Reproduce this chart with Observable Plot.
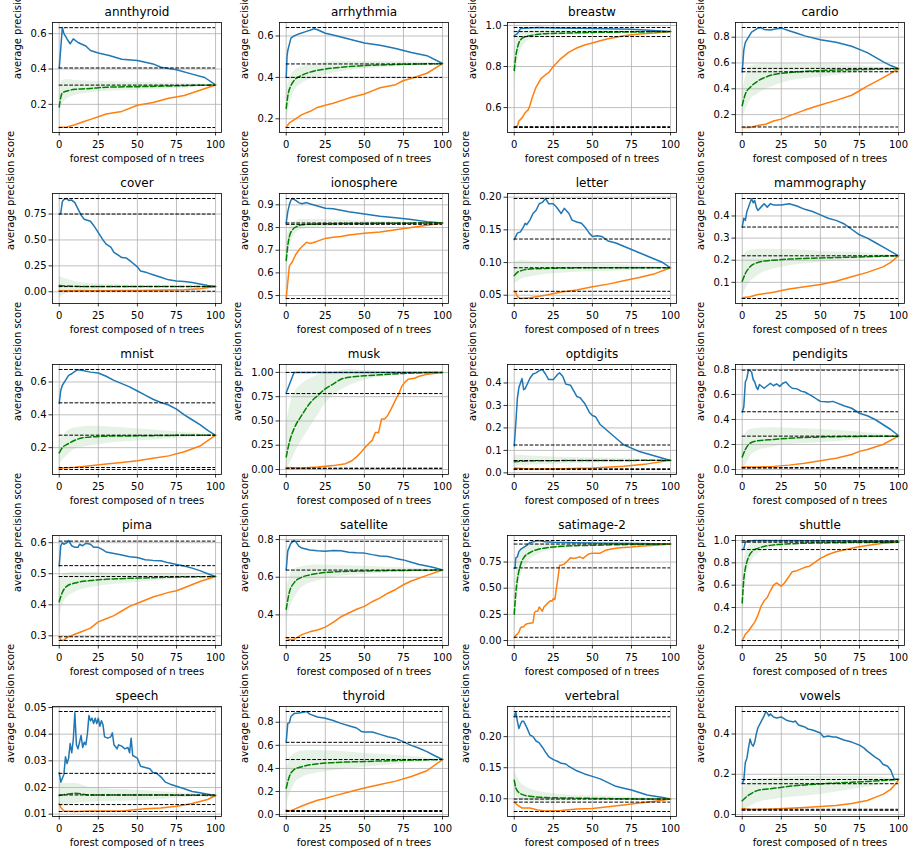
<!DOCTYPE html>
<html>
<head>
<meta charset="utf-8">
<script src="https://cdn.jsdelivr.net/npm/d3@7"></script>
<script src="https://cdn.jsdelivr.net/npm/@observablehq/plot@0.6"></script>
<style>
  html, body { margin: 0; padding: 0; background: #fff; }
  #wrap { position: relative; width: 914px; height: 856px; background: #fff; overflow: hidden; }
</style>
</head>
<body>
<div id="wrap"></div>
<script>
const DATASETS = ["annthyroid","arrhythmia","breastw","cardio","cover","ionosphere","letter","mammography",
  "mnist","musk","optdigits","pendigits","pima","satellite","satimage-2","shuttle","speech","thyroid","vertebral","vowels"];

const X_TICKS = [0, 25, 50, 75, 100];
const X_LABEL = ["forest composed of ", "n", " trees"];
const Y_LABEL = "average precision score";

const Y_TICKS = {
  "annthyroid": ["0.2","0.4","0.6"],
  "arrhythmia": ["0.2","0.4","0.6"],
  "breastw": ["0.6","0.8","1.0"],
  "cardio": ["0.2","0.4","0.6","0.8"],
  "cover": ["0.00","0.25","0.50","0.75"],
  "ionosphere": ["0.5","0.6","0.7","0.8","0.9"],
  "letter": ["0.05","0.10","0.15","0.20"],
  "mammography": ["0.1","0.2","0.3","0.4"],
  "mnist": ["0.2","0.4","0.6"],
  "musk": ["0.00","0.25","0.50","0.75","1.00"],
  "optdigits": ["0.0","0.1","0.2","0.3","0.4"],
  "pendigits": ["0.0","0.2","0.4","0.6","0.8"],
  "pima": ["0.3","0.4","0.5","0.6"],
  "satellite": ["0.4","0.6","0.8"],
  "satimage-2": ["0.00","0.25","0.50","0.75"],
  "shuttle": ["0.2","0.4","0.6","0.8","1.0"],
  "speech": ["0.01","0.02","0.03","0.04","0.05"],
  "thyroid": ["0.0","0.2","0.4","0.6","0.8"],
  "vertebral": ["0.10","0.15","0.20"],
  "vowels": ["0.0","0.2","0.4"]
};

const HLINES = {
  "annthyroid": [0.634, 0.406, 0.309, 0.069],
  "arrhythmia": [0.641, 0.465, 0.40, 0.158],
  "breastw": [0.99, 0.97, 0.946, 0.507, 0.503],
  "cardio": [0.875, 0.558, 0.532, 0.104],
  "cover": [0.90, 0.75, 0.05, 0.005],
  "ionosphere": [0.928, 0.82, 0.814, 0.487],
  "letter": [0.198, 0.136, 0.092, 0.056, 0.045],
  "mammography": [0.479, 0.35, 0.22, 0.027],
  "mnist": [0.676, 0.473, 0.276, 0.079, 0.067],
  "musk": [1.0, 0.782, 0.014, 0.009],
  "optdigits": [0.46, 0.124, 0.055, 0.018, 0.015],
  "pendigits": [0.795, 0.462, 0.267, 0.016, 0.011],
  "pima": [0.605, 0.526, 0.491, 0.297, 0.285],
  "satellite": [0.791, 0.638, 0.28, 0.264],
  "satimage-2": [0.956, 0.922, 0.694, 0.031],
  "shuttle": [0.997, 0.985, 0.919, 0.105],
  "speech": [0.0485, 0.0253, 0.0172, 0.0136, 0.011],
  "thyroid": [0.893, 0.626, 0.477, 0.035, 0.027],
  "vertebral": [0.2405, 0.232, 0.0995, 0.0946, 0.0795],
  "vowels": [0.512, 0.174, 0.153, 0.026, 0.021]
};

const BLUE = {
  "annthyroid": [[0,0.405],[1,0.52],[2,0.635],[3,0.60],[5,0.57],[7,0.543],[9,0.571],[12,0.55],[17,0.53],[20,0.505],[25,0.491],[32,0.476],[40,0.455],[50,0.448],[60,0.429],[65,0.41],[75,0.396],[85,0.371],[93,0.352],[100,0.31]],
  "arrhythmia": [[0,0.40],[0.5,0.5],[1,0.53],[3,0.59],[5,0.60],[8,0.61],[12,0.62],[18,0.635],[20,0.63],[25,0.613],[30,0.605],[40,0.585],[50,0.566],[60,0.555],[70,0.54],[80,0.52],[90,0.505],[100,0.467]],
  "breastw": [[0,0.95],[2,0.96],[4,0.985],[10,0.988],[15,0.99],[25,0.988],[50,0.985],[75,0.982],[100,0.97]],
  "cardio": [[0,0.53],[1,0.70],[2,0.76],[4,0.80],[6,0.84],[8,0.855],[10,0.87],[12,0.875],[14,0.86],[18,0.855],[22,0.865],[25,0.87],[30,0.85],[35,0.83],[40,0.81],[50,0.78],[60,0.76],[70,0.73],[80,0.68],[90,0.61],[95,0.58],[100,0.555]],
  "cover": [[0,0.75],[1,0.76],[2,0.87],[3,0.89],[5,0.90],[6,0.88],[8,0.885],[10,0.86],[12,0.80],[14,0.74],[16,0.70],[20,0.68],[22,0.64],[25,0.57],[28,0.50],[30,0.46],[33,0.43],[35,0.38],[38,0.35],[40,0.33],[43,0.325],[46,0.29],[50,0.24],[52,0.20],[56,0.185],[60,0.165],[65,0.14],[70,0.115],[75,0.105],[80,0.10],[85,0.09],[90,0.075],[95,0.06],[100,0.05]],
  "ionosphere": [[0,0.82],[1,0.87],[2,0.90],[3,0.92],[4,0.928],[6,0.92],[8,0.91],[10,0.905],[13,0.91],[15,0.905],[20,0.895],[25,0.885],[30,0.883],[40,0.87],[50,0.86],[60,0.85],[70,0.843],[80,0.835],[90,0.826],[100,0.82]],
  "letter": [[0,0.135],[1,0.14],[2,0.145],[4,0.147],[6,0.155],[7,0.16],[8,0.158],[10,0.165],[12,0.175],[14,0.18],[16,0.19],[18,0.192],[20,0.198],[22,0.19],[25,0.19],[27,0.185],[30,0.175],[32,0.183],[35,0.175],[37,0.165],[40,0.162],[43,0.16],[46,0.152],[48,0.145],[50,0.14],[53,0.141],[56,0.14],[60,0.133],[65,0.13],[70,0.125],[75,0.12],[80,0.115],[85,0.11],[90,0.105],[95,0.10],[100,0.092]],
  "mammography": [[0,0.35],[1,0.39],[2,0.38],[3,0.42],[4,0.44],[5,0.46],[6,0.478],[7,0.46],[8,0.47],[9,0.44],[10,0.425],[12,0.44],[14,0.455],[16,0.44],[18,0.455],[20,0.45],[25,0.45],[30,0.455],[35,0.445],[40,0.43],[45,0.42],[50,0.405],[55,0.39],[60,0.38],[65,0.365],[70,0.34],[75,0.315],[80,0.30],[85,0.28],[90,0.26],[95,0.24],[100,0.22]],
  "mnist": [[0,0.47],[1,0.55],[2,0.58],[4,0.61],[6,0.64],[8,0.65],[10,0.665],[12,0.675],[15,0.67],[20,0.66],[25,0.655],[30,0.635],[35,0.61],[40,0.59],[45,0.57],[50,0.545],[55,0.52],[60,0.495],[65,0.475],[70,0.46],[75,0.435],[80,0.40],[85,0.37],[90,0.34],[95,0.305],[100,0.275]],
  "musk": [[0,0.79],[5,1.0],[100,1.0]],
  "optdigits": [[0,0.12],[1,0.22],[2,0.33],[3,0.38],[4,0.40],[5,0.42],[6,0.37],[7,0.375],[8,0.39],[10,0.42],[12,0.44],[14,0.445],[16,0.455],[18,0.46],[20,0.44],[22,0.415],[25,0.415],[28,0.44],[29,0.445],[31,0.43],[33,0.395],[36,0.39],[40,0.34],[42,0.335],[45,0.31],[48,0.27],[50,0.255],[52,0.25],[55,0.215],[60,0.185],[65,0.155],[70,0.125],[75,0.11],[80,0.095],[85,0.085],[90,0.075],[95,0.065],[100,0.055]],
  "pendigits": [[0,0.46],[1,0.50],[2,0.70],[3,0.73],[4,0.80],[5,0.79],[6,0.78],[7,0.72],[8,0.70],[9,0.66],[10,0.64],[11,0.68],[12,0.67],[14,0.65],[16,0.67],[18,0.69],[20,0.67],[22,0.685],[24,0.665],[26,0.69],[28,0.70],[30,0.67],[32,0.65],[35,0.645],[38,0.625],[40,0.62],[45,0.585],[48,0.56],[50,0.545],[55,0.54],[58,0.545],[60,0.535],[65,0.51],[70,0.49],[75,0.45],[80,0.43],[85,0.40],[90,0.36],[95,0.32],[100,0.27]],
  "pima": [[0,0.525],[1,0.59],[2,0.60],[3,0.595],[5,0.60],[6,0.607],[8,0.59],[10,0.585],[12,0.585],[13,0.595],[15,0.59],[17,0.598],[20,0.595],[22,0.585],[25,0.585],[28,0.577],[30,0.57],[35,0.565],[40,0.56],[45,0.555],[50,0.552],[55,0.545],[60,0.543],[65,0.542],[70,0.535],[75,0.53],[80,0.525],[85,0.518],[90,0.51],[95,0.50],[100,0.491]],
  "satellite": [[0,0.64],[1,0.74],[2,0.76],[3,0.78],[5,0.795],[6,0.79],[8,0.765],[10,0.755],[15,0.745],[20,0.74],[25,0.738],[30,0.742],[35,0.74],[40,0.733],[45,0.73],[50,0.728],[55,0.72],[60,0.713],[65,0.71],[70,0.70],[75,0.692],[80,0.68],[85,0.668],[90,0.66],[95,0.65],[100,0.638]],
  "satimage-2": [[0,0.69],[0.5,0.69],[1,0.79],[2,0.80],[3,0.85],[4,0.87],[6,0.89],[8,0.91],[10,0.935],[15,0.955],[20,0.945],[25,0.94],[40,0.935],[60,0.93],[80,0.928],[100,0.922]],
  "shuttle": [[0,0.92],[1,0.925],[2,0.985],[4,0.995],[8,1.0],[50,0.997],[100,0.99]],
  "speech": [[0,0.0255],[1,0.022],[2,0.0235],[3,0.025],[4,0.0315],[5,0.029],[6,0.031],[7,0.0365],[8,0.033],[9,0.038],[10,0.048],[11,0.036],[12,0.0345],[13,0.037],[14,0.0395],[15,0.035],[16,0.037],[17,0.036],[18,0.04],[19,0.047],[20,0.045],[21,0.046],[22,0.044],[23,0.046],[24,0.044],[25,0.046],[26,0.043],[27,0.045],[28,0.0435],[29,0.039],[31,0.0385],[33,0.039],[34,0.0405],[35,0.036],[37,0.0345],[38,0.036],[40,0.0355],[42,0.0345],[44,0.035],[45,0.033],[46,0.0385],[47,0.032],[50,0.031],[52,0.028],[55,0.0275],[58,0.027],[60,0.0255],[62,0.0255],[65,0.024],[68,0.022],[72,0.021],[75,0.0205],[80,0.0195],[85,0.0185],[90,0.018],[95,0.0175],[100,0.017]],
  "thyroid": [[0,0.63],[1,0.79],[2,0.795],[3,0.85],[5,0.875],[8,0.88],[10,0.885],[13,0.893],[15,0.87],[20,0.845],[25,0.835],[30,0.815],[35,0.79],[40,0.77],[45,0.75],[48,0.72],[50,0.715],[55,0.715],[60,0.695],[65,0.675],[70,0.66],[75,0.63],[80,0.60],[85,0.575],[90,0.545],[95,0.51],[100,0.477]],
  "vertebral": [[0,0.232],[1,0.24],[2,0.225],[3,0.213],[4,0.22],[5,0.225],[6,0.225],[8,0.215],[10,0.203],[12,0.20],[14,0.193],[16,0.19],[18,0.183],[20,0.175],[22,0.168],[25,0.163],[28,0.16],[30,0.157],[33,0.156],[35,0.152],[40,0.145],[45,0.14],[50,0.136],[55,0.132],[60,0.126],[65,0.12],[70,0.117],[75,0.114],[80,0.11],[85,0.106],[90,0.104],[95,0.102],[100,0.0995]],
  "vowels": [[0,0.155],[1,0.17],[2,0.26],[3,0.28],[4,0.33],[5,0.375],[6,0.35],[7,0.34],[8,0.36],[9,0.40],[10,0.43],[12,0.46],[14,0.49],[15,0.51],[16,0.505],[17,0.49],[18,0.50],[20,0.485],[22,0.48],[25,0.485],[28,0.47],[30,0.465],[33,0.46],[34,0.465],[36,0.445],[40,0.435],[42,0.425],[45,0.42],[50,0.405],[52,0.385],[55,0.39],[58,0.385],[60,0.385],[65,0.37],[70,0.36],[75,0.345],[78,0.33],[80,0.315],[85,0.285],[88,0.27],[90,0.25],[93,0.24],[95,0.22],[97,0.18],[98,0.175],[100,0.175]]
};

const ORANGE = {
  "annthyroid": [[0,0.07],[5,0.072],[10,0.085],[15,0.10],[20,0.115],[25,0.13],[30,0.145],[40,0.16],[50,0.195],[60,0.21],[70,0.235],[80,0.25],[90,0.28],[100,0.31]],
  "arrhythmia": [[0,0.16],[2,0.18],[5,0.195],[10,0.22],[15,0.235],[20,0.255],[25,0.265],[30,0.275],[40,0.30],[50,0.32],[55,0.335],[60,0.35],[70,0.365],[75,0.385],[80,0.395],[90,0.42],[100,0.467]],
  "breastw": [[0,0.505],[2,0.51],[3,0.535],[5,0.55],[7,0.575],[9,0.59],[10,0.61],[12,0.66],[14,0.70],[17,0.74],[20,0.76],[22,0.77],[25,0.80],[30,0.84],[35,0.87],[40,0.89],[45,0.905],[50,0.915],[55,0.925],[60,0.935],[70,0.95],[80,0.958],[90,0.963],[100,0.97]],
  "cardio": [[0,0.10],[5,0.10],[10,0.115],[15,0.125],[20,0.15],[25,0.165],[30,0.19],[40,0.235],[50,0.275],[60,0.31],[70,0.35],[75,0.385],[80,0.42],[90,0.485],[100,0.555]],
  "cover": [[0,0.01],[50,0.013],[80,0.02],[90,0.03],[100,0.05]],
  "ionosphere": [[0,0.49],[1,0.56],[2,0.63],[4,0.65],[6,0.68],[8,0.70],[10,0.715],[13,0.735],[15,0.73],[18,0.735],[20,0.74],[25,0.752],[30,0.757],[35,0.76],[40,0.767],[50,0.775],[60,0.78],[70,0.79],[80,0.80],[90,0.81],[100,0.82]],
  "letter": [[0,0.056],[1,0.054],[2,0.048],[4,0.045],[10,0.046],[20,0.05],[30,0.055],[40,0.058],[50,0.063],[60,0.067],[70,0.072],[80,0.077],[90,0.083],[100,0.092]],
  "mammography": [[0,0.03],[5,0.035],[10,0.045],[20,0.055],[30,0.07],[40,0.08],[50,0.09],[60,0.105],[70,0.125],[80,0.145],[90,0.17],[95,0.19],[100,0.22]],
  "mnist": [[0,0.075],[10,0.08],[20,0.09],[30,0.10],[40,0.11],[50,0.12],[60,0.135],[70,0.15],[80,0.175],[90,0.21],[100,0.276]],
  "musk": [[0,0.02],[10,0.015],[20,0.025],[30,0.04],[38,0.06],[42,0.09],[45,0.13],[48,0.18],[50,0.22],[53,0.27],[55,0.30],[57,0.38],[59,0.38],[61,0.52],[63,0.52],[65,0.56],[67,0.62],[70,0.72],[72,0.78],[74,0.86],[76,0.90],[78,0.93],[82,0.94],[85,0.96],[90,0.98],[100,1.0]],
  "optdigits": [[0,0.022],[10,0.017],[30,0.018],[50,0.022],[70,0.03],[85,0.04],[100,0.056]],
  "pendigits": [[0,0.02],[10,0.02],[20,0.025],[30,0.035],[40,0.05],[50,0.07],[60,0.09],[70,0.12],[75,0.145],[80,0.16],[90,0.20],[100,0.267]],
  "pima": [[0,0.297],[1,0.287],[3,0.286],[5,0.295],[10,0.305],[15,0.315],[20,0.325],[25,0.345],[30,0.355],[35,0.365],[40,0.38],[45,0.395],[50,0.405],[60,0.425],[70,0.44],[75,0.445],[80,0.455],[90,0.475],[100,0.491]],
  "satellite": [[0,0.28],[2,0.268],[5,0.27],[10,0.295],[15,0.31],[20,0.32],[25,0.335],[30,0.36],[35,0.39],[40,0.41],[45,0.43],[50,0.445],[55,0.47],[60,0.49],[65,0.515],[70,0.535],[75,0.56],[80,0.58],[90,0.61],[100,0.638]],
  "satimage-2": [[0,0.03],[1,0.05],[2,0.06],[3,0.08],[4,0.12],[5,0.13],[6,0.13],[7,0.15],[8,0.16],[10,0.165],[12,0.17],[13,0.27],[14,0.28],[15,0.28],[16,0.32],[17,0.30],[18,0.28],[19,0.32],[21,0.35],[23,0.38],[24,0.375],[25,0.40],[26,0.39],[27,0.50],[28,0.60],[29,0.72],[30,0.72],[32,0.73],[34,0.76],[36,0.79],[38,0.785],[40,0.79],[42,0.80],[44,0.785],[46,0.81],[48,0.83],[50,0.835],[55,0.835],[58,0.86],[62,0.875],[66,0.885],[70,0.89],[75,0.893],[80,0.90],[90,0.91],[100,0.922]],
  "shuttle": [[0,0.105],[1,0.13],[2,0.16],[4,0.19],[6,0.23],[8,0.27],[10,0.33],[12,0.41],[14,0.46],[16,0.49],[18,0.55],[20,0.60],[22,0.62],[24,0.60],[25,0.59],[27,0.62],[29,0.66],[30,0.68],[32,0.72],[35,0.73],[40,0.76],[43,0.77],[46,0.80],[50,0.84],[55,0.875],[60,0.90],[65,0.915],[70,0.93],[75,0.945],[80,0.955],[90,0.975],[100,0.985]],
  "speech": [[0,0.014],[1,0.0125],[3,0.0112],[10,0.011],[20,0.0112],[40,0.0112],[55,0.012],[65,0.0123],[75,0.013],[85,0.014],[95,0.0155],[100,0.017]],
  "thyroid": [[0,0.04],[2,0.03],[5,0.045],[10,0.075],[15,0.10],[20,0.125],[25,0.14],[30,0.16],[40,0.195],[50,0.23],[60,0.26],[70,0.29],[80,0.33],[90,0.38],[100,0.477]],
  "vertebral": [[0,0.0945],[2,0.09],[5,0.085],[10,0.085],[15,0.082],[20,0.0805],[30,0.081],[40,0.0835],[50,0.0845],[60,0.087],[70,0.09],[80,0.093],[90,0.096],[100,0.0995]],
  "vowels": [[0,0.03],[5,0.025],[20,0.028],[40,0.035],[60,0.045],[70,0.055],[80,0.07],[85,0.085],[90,0.10],[95,0.125],[98,0.15],[100,0.174]]
};

const GREEN = {
  "annthyroid": [[0,0.185],[1,0.24],[2,0.265],[5,0.276],[10,0.285],[20,0.29],[30,0.297],[50,0.30],[75,0.305],[100,0.31]],
  "arrhythmia": [[0,0.25],[1,0.31],[3,0.36],[5,0.385],[10,0.41],[15,0.425],[25,0.44],[40,0.452],[60,0.46],[80,0.464],[100,0.467]],
  "breastw": [[0,0.78],[1,0.85],[2,0.89],[4,0.93],[7,0.945],[10,0.95],[20,0.96],[30,0.962],[50,0.966],[75,0.968],[100,0.97]],
  "cardio": [[0,0.27],[2,0.36],[5,0.41],[10,0.46],[15,0.49],[20,0.51],[30,0.525],[40,0.535],[60,0.545],[80,0.55],[100,0.555]],
  "cover": [[0,0.06],[5,0.055],[20,0.05],[100,0.05]],
  "ionosphere": [[0,0.655],[1,0.72],[2,0.76],[4,0.79],[7,0.805],[10,0.812],[20,0.816],[50,0.818],[100,0.82]],
  "letter": [[0,0.08],[2,0.085],[5,0.088],[10,0.09],[20,0.091],[50,0.092],[100,0.092]],
  "mammography": [[0,0.105],[2,0.14],[5,0.17],[10,0.19],[15,0.197],[20,0.20],[30,0.205],[50,0.21],[75,0.215],[100,0.22]],
  "mnist": [[0,0.168],[2,0.20],[5,0.22],[10,0.245],[15,0.26],[20,0.265],[30,0.27],[50,0.272],[75,0.275],[100,0.276]],
  "musk": [[0,0.13],[2,0.28],[5,0.42],[10,0.56],[15,0.68],[20,0.76],[25,0.83],[30,0.88],[35,0.93],[40,0.95],[50,0.965],[60,0.975],[75,0.99],[100,1.0]],
  "optdigits": [[0,0.05],[5,0.052],[20,0.054],[50,0.055],[100,0.056]],
  "pendigits": [[0,0.10],[2,0.16],[5,0.21],[10,0.23],[20,0.24],[30,0.25],[50,0.26],[75,0.265],[100,0.267]],
  "pima": [[0,0.41],[2,0.44],[5,0.46],[10,0.47],[20,0.478],[30,0.482],[50,0.486],[75,0.489],[100,0.491]],
  "satellite": [[0,0.43],[2,0.52],[5,0.57],[10,0.60],[15,0.612],[20,0.62],[30,0.628],[50,0.633],[75,0.636],[100,0.638]],
  "satimage-2": [[0,0.25],[1,0.45],[2,0.58],[4,0.72],[6,0.79],[10,0.84],[15,0.87],[20,0.885],[30,0.90],[50,0.91],[75,0.918],[100,0.922]],
  "shuttle": [[0,0.44],[1,0.65],[2,0.75],[4,0.85],[7,0.91],[10,0.93],[15,0.95],[20,0.96],[30,0.97],[50,0.978],[75,0.982],[100,0.985]],
  "speech": [[0,0.017],[5,0.0175],[10,0.0178],[20,0.0172],[50,0.0172],[100,0.017]],
  "thyroid": [[0,0.23],[2,0.33],[5,0.39],[10,0.415],[20,0.44],[30,0.45],[50,0.46],[75,0.47],[100,0.477]],
  "vertebral": [[0,0.13],[1,0.118],[3,0.11],[5,0.107],[10,0.104],[20,0.102],[40,0.101],[70,0.10],[100,0.0995]],
  "vowels": [[0,0.068],[3,0.09],[7,0.11],[10,0.12],[20,0.13],[30,0.14],[50,0.152],[70,0.16],[85,0.167],[100,0.174]]
};

// [x, low, high] of the shaded band around the green curve
const BAND = {
  "annthyroid": [[0,0.12,0.24],[2,0.2,0.335],[5,0.23,0.34],[10,0.25,0.335],[25,0.27,0.33],[50,0.28,0.325],[75,0.29,0.32],[90,0.30,0.315],[100,0.31,0.31]],
  "arrhythmia": [[0,0.18,0.33],[3,0.29,0.41],[5,0.33,0.43],[10,0.37,0.45],[20,0.40,0.465],[30,0.42,0.475],[50,0.44,0.477],[80,0.455,0.475],[100,0.467,0.467]],
  "breastw": [[0,0.68,0.87],[2,0.81,0.95],[5,0.89,0.97],[10,0.93,0.975],[20,0.945,0.976],[40,0.955,0.975],[70,0.962,0.973],[100,0.97,0.97]],
  "cardio": [[0,0.17,0.37],[3,0.26,0.52],[5,0.31,0.57],[10,0.36,0.59],[20,0.42,0.595],[30,0.46,0.595],[50,0.49,0.59],[70,0.52,0.58],[90,0.545,0.565],[100,0.555,0.555]],
  "cover": [[0,-0.065,0.15],[3,-0.03,0.13],[10,0.0,0.10],[20,0.02,0.08],[40,0.035,0.065],[70,0.043,0.057],[100,0.05,0.05]],
  "ionosphere": [[0,0.6,0.74],[2,0.7,0.80],[4,0.75,0.82],[7,0.78,0.83],[10,0.79,0.835],[20,0.80,0.835],[50,0.81,0.828],[100,0.82,0.82]],
  "letter": [[0,0.067,0.10],[5,0.075,0.103],[10,0.078,0.102],[25,0.083,0.10],[50,0.086,0.098],[75,0.088,0.096],[100,0.092,0.092]],
  "mammography": [[0,0.03,0.2],[3,0.08,0.24],[10,0.13,0.25],[20,0.16,0.25],[30,0.175,0.248],[50,0.19,0.24],[75,0.205,0.235],[100,0.22,0.22]],
  "mnist": [[0,0.1,0.24],[5,0.15,0.3],[10,0.19,0.32],[20,0.21,0.33],[30,0.225,0.328],[50,0.24,0.315],[70,0.255,0.30],[90,0.265,0.285],[100,0.276,0.276]],
  "musk": [[0,0.0,0.45],[3,0.08,0.70],[5,0.15,0.78],[10,0.30,0.88],[15,0.43,0.93],[20,0.55,0.97],[25,0.68,0.99],[30,0.76,1.0],[40,0.86,1.03],[50,0.92,1.02],[60,0.95,1.015],[75,0.975,1.01],[100,1.0,1.0]],
  "optdigits": [[0,0.03,0.08],[10,0.035,0.075],[30,0.04,0.07],[60,0.045,0.065],[100,0.056,0.056]],
  "pendigits": [[0,0.0,0.22],[3,0.05,0.3],[5,0.1,0.32],[10,0.15,0.33],[20,0.18,0.335],[30,0.2,0.33],[50,0.215,0.32],[75,0.24,0.3],[100,0.267,0.267]],
  "pima": [[0,0.36,0.47],[3,0.41,0.5],[10,0.44,0.505],[20,0.455,0.505],[30,0.463,0.503],[50,0.472,0.5],[75,0.482,0.497],[100,0.491,0.491]],
  "satellite": [[0,0.36,0.52],[3,0.45,0.62],[6,0.5,0.645],[10,0.545,0.655],[20,0.58,0.665],[30,0.6,0.663],[50,0.615,0.658],[75,0.628,0.65],[100,0.638,0.638]],
  "satimage-2": [[0,0.0,0.5],[2,0.4,0.75],[4,0.6,0.85],[7,0.7,0.9],[10,0.77,0.92],[15,0.82,0.93],[20,0.85,0.935],[30,0.88,0.937],[50,0.9,0.935],[75,0.912,0.93],[100,0.922,0.922]],
  "shuttle": [[0,0.26,0.62],[2,0.6,0.88],[4,0.74,0.95],[7,0.84,0.98],[10,0.88,0.99],[15,0.91,0.99],[20,0.935,0.99],[30,0.955,0.99],[50,0.968,0.988],[100,0.985,0.985]],
  "speech": [[0,0.0125,0.0215],[10,0.014,0.0215],[20,0.0145,0.02],[50,0.015,0.019],[75,0.016,0.018],[100,0.017,0.017]],
  "thyroid": [[0,0.08,0.38],[3,0.2,0.5],[6,0.28,0.53],[10,0.32,0.55],[20,0.36,0.555],[30,0.38,0.55],[50,0.41,0.53],[75,0.44,0.51],[100,0.477,0.477]],
  "vertebral": [[0,0.11,0.148],[3,0.1,0.13],[7,0.097,0.12],[15,0.096,0.112],[30,0.096,0.107],[60,0.098,0.104],[100,0.0995,0.0995]],
  "vowels": [[0,0.015,0.13],[5,0.04,0.16],[10,0.06,0.175],[25,0.08,0.185],[50,0.1,0.19],[75,0.13,0.19],[90,0.15,0.185],[100,0.174,0.174]]
};

// ---- layout / drawing ----
const wrap = document.getElementById("wrap");
const COL_LEFT = [0, 227, 455, 683];
const ROW_TOP = [0, 171, 342, 513, 684];
const CHAR_W = {"0":6.36,"1":6.36,"2":6.36,"3":6.36,"4":6.36,"5":6.36,"6":6.36,"7":6.36,"8":6.36,"9":6.36,".":3.18,"-":8.38};
const labelWidth = s => [...s].reduce((a, ch) => a + (CHAR_W[ch] || 6.36), 0);

DATASETS.forEach((name, i) => {
  const r = Math.floor(i / 4), c = i % 4;
  const labels = Y_TICKS[name];
  const ticks = labels.map(Number);
  const fmt = new Map(ticks.map((t, k) => [t, labels[k]]));
  const allY = [
    ...BLUE[name].map(d => d[1]), ...ORANGE[name].map(d => d[1]), ...GREEN[name].map(d => d[1]),
    ...BAND[name].map(d => d[1]), ...BAND[name].map(d => d[2]), ...HLINES[name]
  ];
  const [lo, hi] = d3.extent(allY);
  const pad = (hi - lo) * 0.05;
  const tw = d3.max(labels, labelWidth);

  const plot = Plot.plot({
    width: 228, height: 171,
    marginLeft: 52, marginRight: 7, marginTop: 22, marginBottom: 39,
    x: {domain: [-4.3, 103.8]},
    y: {domain: [lo - pad, hi + pad]},
    style: {fontFamily: "'DejaVu Sans', sans-serif", fontSize: "10px", background: "transparent", overflow: "visible", color: "black"},
    marks: [
      Plot.areaY(BAND[name], {x: d => d[0], y1: d => d[1], y2: d => d[2], fill: "green", fillOpacity: 0.1, curve: "monotone-x"}),
      Plot.gridX({ticks: X_TICKS, stroke: "#b0b0b0", strokeOpacity: 1, strokeWidth: 0.8}),
      Plot.gridY({ticks, stroke: "#b0b0b0", strokeOpacity: 1, strokeWidth: 0.8}),
      Plot.lineY(BLUE[name], {x: d => d[0], y: d => d[1], stroke: "#1f77b4", strokeWidth: 1.5}),
      Plot.lineY(ORANGE[name], {x: d => d[0], y: d => d[1], stroke: "#ff7f0e", strokeWidth: 1.5}),
      Plot.lineY(GREEN[name], {x: d => d[0], y: d => d[1], stroke: "green", strokeWidth: 1.5, strokeDasharray: "5.55,2.4", curve: "monotone-x"}),
      Plot.ruleY(HLINES[name], {y: d => d, x1: 0, x2: 100, stroke: "black", strokeWidth: 1, strokeDasharray: "3.7,1.6"}),
      Plot.frame({stroke: "black", strokeWidth: 0.8}),
      Plot.axisX({ticks: X_TICKS, tickSize: 3.5, tickPadding: 5, tickFormat: d => String(d), label: null, strokeWidth: 0.8}),
      Plot.axisY({ticks, tickSize: 3.5, tickPadding: 2.5, tickFormat: d => fmt.get(d), label: null, strokeWidth: 0.8}),
      Plot.text([name], {text: d => d, frameAnchor: "top", lineAnchor: "bottom", dy: -7, fontSize: 12}),
      Plot.text([X_LABEL.join("")], {text: d => d, frameAnchor: "bottom", lineAnchor: "bottom", dy: 29.5, fontSize: 10, ariaLabel: "xlab"}),
      Plot.text([Y_LABEL], {text: d => d, frameAnchor: "left", lineAnchor: "middle", rotate: -90, dx: -(tw + 19), dy: 1.5, fontSize: 10})
    ]
  });

  // italic "n" in the x label
  plot.querySelectorAll('g[aria-label="xlab"] text').forEach(t => {
    t.textContent = "";
    X_LABEL.forEach((part, k) => {
      const ts = document.createElementNS("http://www.w3.org/2000/svg", "tspan");
      ts.textContent = part;
      if (k === 1) ts.setAttribute("font-style", "italic");
      t.appendChild(ts);
    });
  });

  plot.style.position = "absolute";
  plot.style.left = COL_LEFT[c] + "px";
  plot.style.top = ROW_TOP[r] + "px";
  wrap.appendChild(plot);
});
</script>
</body>
</html>
